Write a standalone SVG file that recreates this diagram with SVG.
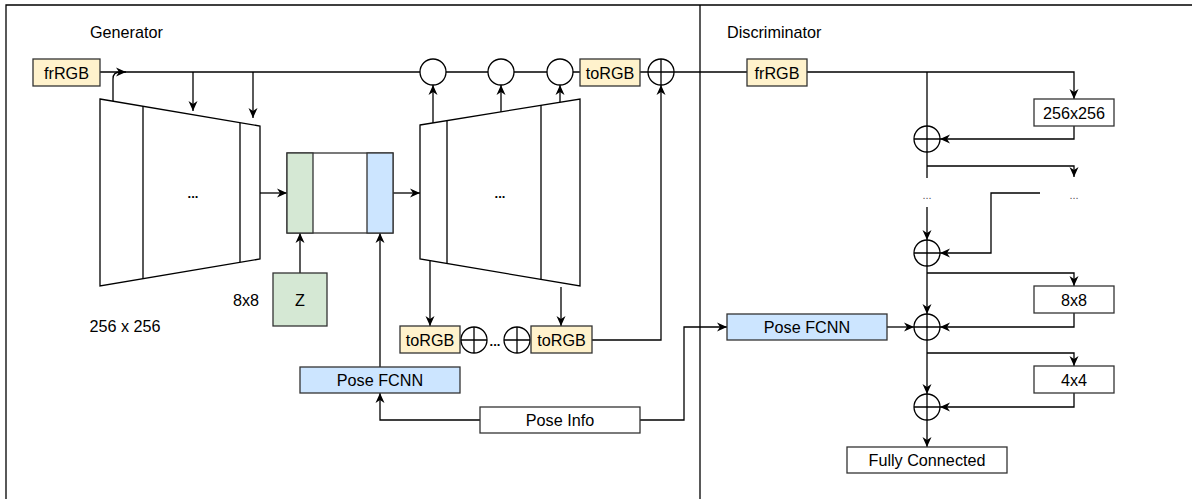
<svg xmlns="http://www.w3.org/2000/svg" width="1192" height="499" viewBox="0 0 1192 499">
  <defs>
    <marker id="arr" viewBox="0 0 10 10" refX="10" refY="5" markerWidth="10" markerHeight="10" markerUnits="userSpaceOnUse" orient="auto">
      <path d="M0,0.5 L10,5 L0,9.5 L3,5 z" fill="#000"/>
    </marker>
    <style>
      .ln { fill: none; stroke: #000; stroke-width: 1.3; }
      .a { marker-end: url(#arr); }
      .box { stroke: #333; stroke-width: 1.3; }
      .wht { fill: #fff; }
      .yel { fill: #fff2cc; }
      .grn { fill: #d5e8d4; }
      .blu { fill: #cce5ff; }
      .shape { fill: #fff; stroke: #000; stroke-width: 1.3; }
      text { font-family: "Liberation Sans", Arial, sans-serif; font-size: 16.2px; fill: #000; text-anchor: middle; dominant-baseline: central; }
      .lbl { text-anchor: start; }
      .dots { font-size: 13px; font-weight: bold; }
      .sdots { font-size: 11px; fill: #555; }
    </style>
  </defs>
  <rect width="1192" height="499" fill="#fff"/>

  <!-- frame and section divider -->
  <g id="frame" class="ln">
    <path d="M6,499 V5 H1192"/>
    <path d="M700,5 V499"/>
  </g>
  <text class="lbl" x="90" y="32">Generator</text>
  <text class="lbl" x="727" y="32">Discriminator</text>

  <!-- connectors -->
  <g id="connectors">
    <!-- main skip line through generator into discriminator -->
    <path class="ln" d="M100,72 H747"/>
    <path class="ln a" d="M113,101 V79 Q113,72 120,72 H126"/>
    <path class="ln a" d="M193,72 V111"/>
    <path class="ln a" d="M253,72 V118"/>
    <path class="ln a" d="M260,193 H287"/>
    <path class="ln a" d="M300,273 V233"/>
    <path class="ln a" d="M380,367 V233"/>
    <path class="ln a" d="M393,193 H420"/>
    <path class="ln a" d="M433,123 V85"/>
    <path class="ln a" d="M501,112 V85"/>
    <path class="ln a" d="M560,102 V85"/>
    <path class="ln a" d="M430,261 V326"/>
    <path class="ln a" d="M561,287 V326"/>
    <path class="ln a" d="M592,340 H661 V85"/>
    <path class="ln a" d="M480,420 H380 V393"/>
    <path class="ln a" d="M640,420 H684 V327 H727"/>

    <!-- discriminator -->
    <path class="ln a" d="M807,72 H1074 V99"/>
    <path class="ln" d="M927,72 V126"/>
    <path class="ln a" d="M1074,126 V139 H940"/>
    <path class="ln" d="M927,152 V178"/>
    <path class="ln a" d="M927,166 H1074 V177"/>
    <path class="ln a" d="M927,207 V240"/>
    <path class="ln a" d="M1040,193 H991 V253 H940"/>
    <path class="ln a" d="M927,266 V314"/>
    <path class="ln a" d="M927,273 H1074 V286"/>
    <path class="ln a" d="M1074,313 V327 H940"/>
    <path class="ln a" d="M887,327 H914"/>
    <path class="ln a" d="M927,340 V394"/>
    <path class="ln a" d="M927,353 H1074 V366"/>
    <path class="ln a" d="M1074,393 V407 H940"/>
    <path class="ln a" d="M927,420 V447"/>
  </g>

  <!-- generator -->
  <g id="gen-frRGB">
    <rect class="box yel" x="33" y="59" width="67" height="27"/>
    <text x="66.5" y="72.5">frRGB</text>
  </g>
  <g id="encoder">
    <path class="shape" d="M100,99 L260,126 L260,259 L100,286 Z"/>
    <path class="ln" d="M143,106 V279 M240,123 V262"/>
    <text class="dots" x="193" y="193">...</text>
  </g>
  <text x="246" y="300">8x8</text>
  <text x="125" y="326">256 x 256</text>
  <g id="latent">
    <rect class="box wht" x="287" y="153" width="106" height="80"/>
    <rect class="box grn" x="287" y="153" width="26" height="80"/>
    <rect class="box blu" x="367" y="153" width="26" height="80"/>
  </g>
  <g id="z">
    <rect class="box grn" x="273" y="273" width="54" height="53"/>
    <text x="300" y="300">Z</text>
  </g>
  <g id="decoder">
    <path class="shape" d="M420,125 L580,99 L580,286 L420,259 Z"/>
    <path class="ln" d="M447,121 V264 M541,105 V280"/>
    <text class="dots" x="500" y="193">...</text>
  </g>
  <g id="mix1"><circle class="shape" cx="433" cy="72" r="13"/></g>
  <g id="mix2"><circle class="shape" cx="501" cy="72" r="13"/></g>
  <g id="mix3"><circle class="shape" cx="560" cy="72" r="13"/></g>
  <g id="gen-toRGB-top">
    <rect class="box yel" x="580" y="59" width="60" height="27"/>
    <text x="610" y="72.5">toRGB</text>
  </g>
  <g id="gen-sum">
    <circle class="shape" cx="661" cy="72" r="13"/>
    <path class="ln" d="M648,72 H674 M661,59 V85"/>
  </g>
  <g id="gen-toRGB-a">
    <rect class="box yel" x="400" y="326" width="60" height="27"/>
    <text x="430" y="339.5">toRGB</text>
  </g>
  <g id="gen-sum-a">
    <circle class="shape" cx="474" cy="340" r="13"/>
    <path class="ln" d="M461,340 H487 M474,327 V353"/>
  </g>
  <text class="dots" x="495" y="341">...</text>
  <g id="gen-sum-b">
    <circle class="shape" cx="517" cy="340" r="13"/>
    <path class="ln" d="M504,340 H530 M517,327 V353"/>
  </g>
  <g id="gen-toRGB-b">
    <rect class="box yel" x="531" y="326" width="61" height="27"/>
    <text x="561.5" y="339.5">toRGB</text>
  </g>
  <g id="gen-pose">
    <rect class="box blu" x="300" y="367" width="160" height="26"/>
    <text x="380" y="380">Pose FCNN</text>
  </g>
  <g id="pose-info">
    <rect class="box wht" x="480" y="407" width="160" height="26"/>
    <text x="560" y="420">Pose Info</text>
  </g>

  <!-- discriminator -->
  <g id="disc-frRGB">
    <rect class="box yel" x="747" y="59" width="60" height="27"/>
    <text x="777" y="72.5">frRGB</text>
  </g>
  <g id="res256">
    <rect class="box wht" x="1034" y="99" width="80" height="27"/>
    <text x="1074" y="112.5">256x256</text>
  </g>
  <g id="dsum1">
    <circle class="shape" cx="927" cy="139" r="13"/>
    <path class="ln" d="M914,139 H940 M927,126 V152"/>
  </g>
  <text class="sdots" x="927" y="195">...</text>
  <text class="sdots" x="1074" y="195">...</text>
  <g id="dsum2">
    <circle class="shape" cx="927" cy="253" r="13"/>
    <path class="ln" d="M914,253 H940 M927,240 V266"/>
  </g>
  <g id="res8">
    <rect class="box wht" x="1034" y="286" width="80" height="27"/>
    <text x="1074" y="299.5">8x8</text>
  </g>
  <g id="disc-pose">
    <rect class="box blu" x="727" y="314" width="160" height="26"/>
    <text x="807" y="327">Pose FCNN</text>
  </g>
  <g id="dsum3">
    <circle class="shape" cx="927" cy="327" r="13"/>
    <path class="ln" d="M914,327 H940 M927,314 V340"/>
  </g>
  <g id="res4">
    <rect class="box wht" x="1034" y="366" width="80" height="27"/>
    <text x="1074" y="379.5">4x4</text>
  </g>
  <g id="dsum4">
    <circle class="shape" cx="927" cy="407" r="13"/>
    <path class="ln" d="M914,407 H940 M927,394 V420"/>
  </g>
  <g id="fc">
    <rect class="box wht" x="847" y="447" width="160" height="26"/>
    <text x="927" y="460">Fully Connected</text>
  </g>
</svg>
